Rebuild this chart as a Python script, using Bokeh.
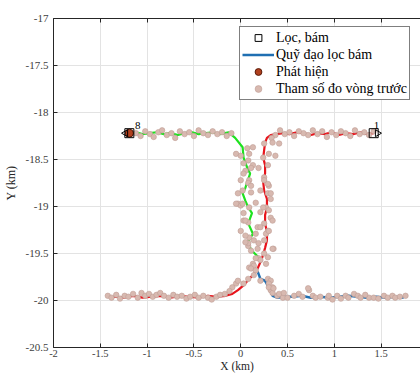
from bokeh.plotting import figure
from bokeh.models import (Range1d, LinearAxis, FixedTicker, Legend, LegendItem,
                          CustomJSTickFormatter)
from bokeh.embed import file_html
from bokeh.resources import INLINE
from bokeh.core.properties import value

# ---- filtered track estimates (km) ----
track1_x = [1.42, 1.35, 1.28, 1.20, 1.12, 1.05, 0.97, 0.90, 0.82, 0.75, 0.67, 0.60, 0.52, 0.45,
            0.38, 0.32, 0.28, 0.26, 0.25, 0.24, 0.26, 0.26, 0.24, 0.25, 0.28, 0.28, 0.26, 0.26,
            0.28, 0.28, 0.26, 0.24, 0.22, 0.18, 0.14, 0.09, 0.03, -0.03, -0.09, -0.16, -0.25,
            -0.35, -0.45, -0.55, -0.65, -0.75, -0.85, -0.95, -1.05, -1.15, -1.25, -1.35, -1.40]
track1_y = [-18.22, -18.23, -18.21, -18.23, -18.22, -18.24, -18.21, -18.23, -18.22, -18.24, -18.22,
            -18.21, -18.23, -18.22, -18.23, -18.24, -18.27, -18.32, -18.40, -18.48, -18.56, -18.65,
            -18.74, -18.83, -18.92, -19.01, -19.09, -19.18, -19.27, -19.36, -19.44, -19.51, -19.57,
            -19.66, -19.72, -19.77, -19.84, -19.89, -19.93, -19.95, -19.96, -19.95, -19.97, -19.96,
            -19.95, -19.97, -19.95, -19.96, -19.97, -19.95, -19.97, -19.96, -19.97]

track8_x = [-1.19, -1.12, -1.05, -0.97, -0.90, -0.82, -0.75, -0.67, -0.60, -0.52, -0.45, -0.37,
            -0.30, -0.22, -0.13, -0.06, 0.02, 0.03, 0.07, 0.10, 0.05, 0.02, 0.05, 0.08, 0.12, 0.08,
            0.13, 0.07, 0.12, 0.19, 0.21]
track8_y = [-18.22, -18.21, -18.23, -18.22, -18.21, -18.23, -18.22, -18.24, -18.22, -18.21, -18.23,
            -18.22, -18.21, -18.23, -18.21, -18.27, -18.37, -18.48, -18.59, -18.65, -18.80, -18.86,
            -18.94, -19.01, -19.07, -19.18, -19.29, -19.39, -19.47, -19.54, -19.58]

trackc_x = [0.18, 0.21, 0.26, 0.30, 0.34, 0.39, 0.48, 0.56, 0.65, 0.75, 0.85, 0.95, 1.05, 1.15,
            1.25, 1.35, 1.45, 1.55, 1.65, 1.74]
trackc_y = [-19.69, -19.77, -19.79, -19.86, -19.95, -19.97, -19.96, -19.96, -19.95, -19.97, -19.96,
            -19.97, -19.96, -19.95, -19.96, -19.97, -19.96, -19.97, -19.96, -19.97]

# ---- previous-scan measurements ----
meas_top_right_x = [1.42, 1.37, 1.32, 1.27, 1.22, 1.17, 1.12, 1.07, 1.02, 0.97, 0.92, 0.87, 0.82,
                    0.77, 0.72, 0.67, 0.62, 0.57, 0.52, 0.47, 0.42, 0.37, 0.33]
meas_top_right_y = [-18.20, -18.24, -18.21, -18.23, -18.19, -18.25, -18.22, -18.20, -18.24, -18.21,
                    -18.26, -18.20, -18.23, -18.19, -18.24, -18.22, -18.20, -18.25, -18.21, -18.23,
                    -18.19, -18.24, -18.27]

meas_top_left_x = [-1.12, -1.07, -1.02, -0.97, -0.93, -0.88, -0.84, -0.79, -0.74, -0.70, -0.65,
                   -0.60, -0.55, -0.50, -0.45, -0.40, -0.35, -0.30, -0.25, -0.20, -0.15, -0.10]
meas_top_left_y = [-18.22, -18.25, -18.20, -18.23, -18.26, -18.21, -18.19, -18.24, -18.22, -18.27,
                   -18.20, -18.23, -18.21, -18.25, -18.19, -18.22, -18.24, -18.20, -18.23, -18.21,
                   -18.25, -18.22]

meas_mid_left_x = [-0.05, 0.00, 0.09, 0.13, 0.08, 0.13, 0.05, 0.09, 0.02, 0.11, -0.03, 0.00, 0.09,
                   0.16, 0.03, 0.08, 0.18, 0.09, 0.16, 0.08, 0.14, 0.18, 0.19, 0.13, 0.09, 0.07,
                   0.03, 0.11, 0.03, 0.00, 0.08, 0.11, -0.03, -0.05, 0.02, 0.03, 0.05, 0.00, 0.05,
                   0.08, 0.11, 0.05]
meas_mid_left_y = [-18.44, -18.46, -18.44, -18.37, -18.51, -18.56, -18.62, -18.72, -18.83, -18.85,
                   -18.97, -18.99, -19.01, -18.96, -19.15, -19.17, -19.22, -19.33, -19.29, -19.42,
                   -19.36, -19.45, -19.55, -19.61, -19.65, -18.38, -18.54, -18.59, -18.65, -18.72,
                   -18.75, -18.78, -18.86, -18.97, -18.97, -19.07, -19.15, -19.26, -19.31, -19.39,
                   -19.47, -19.38]

meas_mid_right_x = [0.25, 0.34, 0.41, 0.24, 0.30, 0.37, 0.19, 0.29, 0.25, 0.30, 0.21, 0.29, 0.32,
                    0.27, 0.21, 0.32, 0.34, 0.25, 0.29, 0.27, 0.35, 0.29, 0.25, 0.21, 0.27, 0.25,
                    0.29, 0.32, 0.24, 0.30, 0.21, 0.30, 0.25, 0.19, 0.34, 0.16, 0.14, 0.11, 0.16]
meas_mid_right_y = [-18.33, -18.32, -18.33, -18.48, -18.44, -18.46, -18.59, -18.56, -18.69, -18.78,
                    -18.83, -18.86, -18.92, -19.01, -19.06, -19.12, -19.15, -19.18, -19.26, -19.29,
                    -19.45, -19.54, -19.50, -19.57, -19.61, -18.72, -18.76, -18.86, -19.01, -19.04,
                    -19.22, -19.26, -19.36, -19.39, -19.45, -19.55, -19.63, -19.66, -19.68]

meas_cross_x = [0.14, 0.21, 0.29, 0.32, 0.30, 0.34, 0.32, 0.39, 0.45, -0.05, -0.03, -0.09, 0.03, 0.08]
meas_cross_y = [-19.73, -19.79, -19.77, -19.79, -19.82, -19.86, -19.89, -19.95, -19.97, -19.82,
                -19.79, -19.86, -19.82, -19.77]

meas_bot_left_x = [-1.42, -1.38, -1.33, -1.29, -1.24, -1.20, -1.15, -1.10, -1.06, -1.02, -0.98,
                   -0.94, -0.90, -0.86, -0.82, -0.77, -0.72, -0.68, -0.63, -0.58, -0.54, -0.49,
                   -0.45, -0.40, -0.35, -0.31, -0.26, -0.22, -0.17, -0.12]
meas_bot_left_y = [-19.95, -19.97, -19.94, -19.98, -19.95, -19.96, -19.93, -19.97, -19.92, -19.95,
                   -19.93, -19.96, -19.94, -19.92, -19.95, -19.97, -19.94, -19.96, -19.95, -19.98,
                   -19.96, -19.94, -19.97, -19.95, -19.97, -19.99, -19.96, -19.94, -19.93, -19.90]

meas_bot_right_x = [0.30, 0.34, 0.35, 0.41, 0.46, 0.57, 0.62, 0.73, 0.77, 0.80, 0.93, 0.94, 1.03,
                    1.07, 1.12, 1.21, 1.25, 1.28, 1.37, 1.42, 1.53, 1.57, 1.62, 1.65, 1.76, 0.72,
                    0.50, 0.66, 0.85, 0.98, 1.15, 1.33, 1.47, 1.70]
meas_bot_right_y = [-19.86, -19.92, -19.87, -19.93, -19.92, -19.95, -19.93, -19.89, -19.95, -19.97,
                    -19.97, -19.95, -19.95, -19.98, -19.95, -19.93, -19.95, -19.97, -19.97, -19.97,
                    -19.95, -19.97, -19.95, -19.97, -19.95, -19.87, -19.97, -19.96, -19.96, -19.99,
                    -19.97, -19.94, -19.98, -19.96]

# ---- track heads ----
track_ids = ["1", "8"]
head_x = [1.42, -1.19]
head_y = [-18.22, -18.22]
label_x = [1.45, -1.10]
label_y = [-18.14, -18.14]
detect_x = [-1.19]
detect_y = [-18.22]

x_ticks = [-2, -1.5, -1, -0.5, 0, 0.5, 1, 1.5]
x_tick_labels = ["-2", "-1.5", "-1", "-0.5", "0", "0.5", "1", "1.5"]
y_ticks = [-17, -17.5, -18, -18.5, -19, -19.5, -20, -20.5]
y_tick_labels = ["-17", "-17.5", "-18", "-18.5", "-19", "-19.5", "-20", "-20.5"]

SERIF = "serif"
AXIS_COLOR = "#262626"
DOT_FILL = "#d8b9b0"
DOT_LINE = "#bf9e95"

p = figure(width=420, height=374, output_backend="svg", toolbar_location=None,
           x_range=Range1d(-2, 1.92), y_range=Range1d(-20.5, -17),
           min_border_left=53, min_border_top=18, min_border_right=0, min_border_bottom=26)
p.outline_line_color = None
p.background_fill_color = "white"
p.border_fill_color = "white"

for ax, ticks, labels in ((p.xaxis[0], x_ticks, x_tick_labels), (p.yaxis[0], y_ticks, y_tick_labels)):
    ax.ticker = FixedTicker(ticks=ticks)
    ax.major_label_overrides = {t: l for t, l in zip(ticks, labels)}
    ax.major_label_text_font = SERIF
    ax.major_label_text_font_size = "11px"
    ax.major_label_text_color = "#404040"
    ax.axis_line_color = AXIS_COLOR
    ax.major_tick_line_color = AXIS_COLOR
    ax.major_tick_in = 4
    ax.major_tick_out = 0
    ax.minor_tick_line_color = None
    ax.axis_label_text_font = SERIF
    ax.axis_label_text_font_style = "normal"
    ax.axis_label_text_font_size = "12px"
    ax.axis_label_text_color = "#262626"

p.xaxis.axis_label = "X (km)"
p.xaxis.major_label_standoff = 2
p.xaxis.major_label_text_font_size = "10.5px"
p.xaxis.axis_label_standoff = 0
p.xaxis.axis_label_text_font_size = "11.5px"
p.yaxis.axis_label = "Y (km)"
p.yaxis.major_label_standoff = 5
p.yaxis.axis_label_standoff = 5

# box edge along the top, ticks only
top_axis = LinearAxis(ticker=FixedTicker(ticks=x_ticks),
                      formatter=CustomJSTickFormatter(code="return '';"),
                      axis_line_color=AXIS_COLOR, major_tick_line_color=AXIS_COLOR,
                      major_tick_in=4, major_tick_out=0, minor_tick_line_color=None,
                      major_label_standoff=0, major_label_text_font_size="1px")
p.add_layout(top_axis, "above")

p.xgrid.ticker = FixedTicker(ticks=x_ticks)
p.ygrid.ticker = FixedTicker(ticks=y_ticks)
p.grid.grid_line_color = "#e3e3e3"
p.grid.grid_line_width = 1

# track lines
line_w = 2.2
r_track1 = p.line(track1_x, track1_y, line_color="#e8141c", line_width=line_w)
r_track8 = p.line(track8_x, track8_y, line_color="#1fe21f", line_width=line_w)
r_trackc = p.line(trackc_x, trackc_y, line_color="#1f6fb2", line_width=2.5)

# measurements on top of the tracks
meas_x = (meas_top_right_x + meas_top_left_x + meas_mid_left_x + meas_mid_right_x +
          meas_cross_x + meas_bot_left_x + meas_bot_right_x)
meas_y = (meas_top_right_y + meas_top_left_y + meas_mid_left_y + meas_mid_right_y +
          meas_cross_y + meas_bot_left_y + meas_bot_right_y)
r_meas = p.scatter(meas_x, meas_y, size=5.5, fill_color=DOT_FILL, line_color=DOT_LINE,
                   line_width=0.6)

# detection and track heads
r_detect = p.scatter(detect_x, detect_y, size=8, fill_color="#b0401e", line_color="#5a1a08",
                     line_width=1)
r_head = p.scatter(head_x, head_y, marker="square", size=9, fill_color=None,
                   line_color="black", line_width=1)
p.scatter([head_x[0] + 0.04], [head_y[0]], marker="triangle", angle=-1.5708, size=7,
          fill_color=None, line_color="black", line_width=1)
p.scatter([head_x[1] - 0.04], [head_y[1]], marker="triangle", angle=1.5708, size=7,
          fill_color=None, line_color="black", line_width=1)
p.text(label_x, label_y, text=track_ids, text_font=value(SERIF), text_font_size="11px",
       text_color="black", text_align="center", text_baseline="middle")

legend = Legend(items=[
    LegendItem(label="Lọc, bám", renderers=[r_head]),
    LegendItem(label="Quỹ đạo lọc bám", renderers=[r_trackc]),
    LegendItem(label="Phát hiện", renderers=[r_detect]),
    LegendItem(label="Tham số đo vòng trước", renderers=[r_meas]),
], location=(186, 247))
legend.label_text_font = SERIF
legend.label_text_font_size = "14px"
legend.label_text_color = "black"
legend.glyph_width = 32
legend.glyph_height = 17
legend.label_height = 17
legend.label_standoff = 2
legend.spacing = 0
legend.padding = 2
legend.margin = 0
legend.border_line_color = "black"
legend.border_line_width = 1
legend.background_fill_alpha = 1
p.add_layout(legend, "center")

open("out.html", "w").write(file_html(p, INLINE))
